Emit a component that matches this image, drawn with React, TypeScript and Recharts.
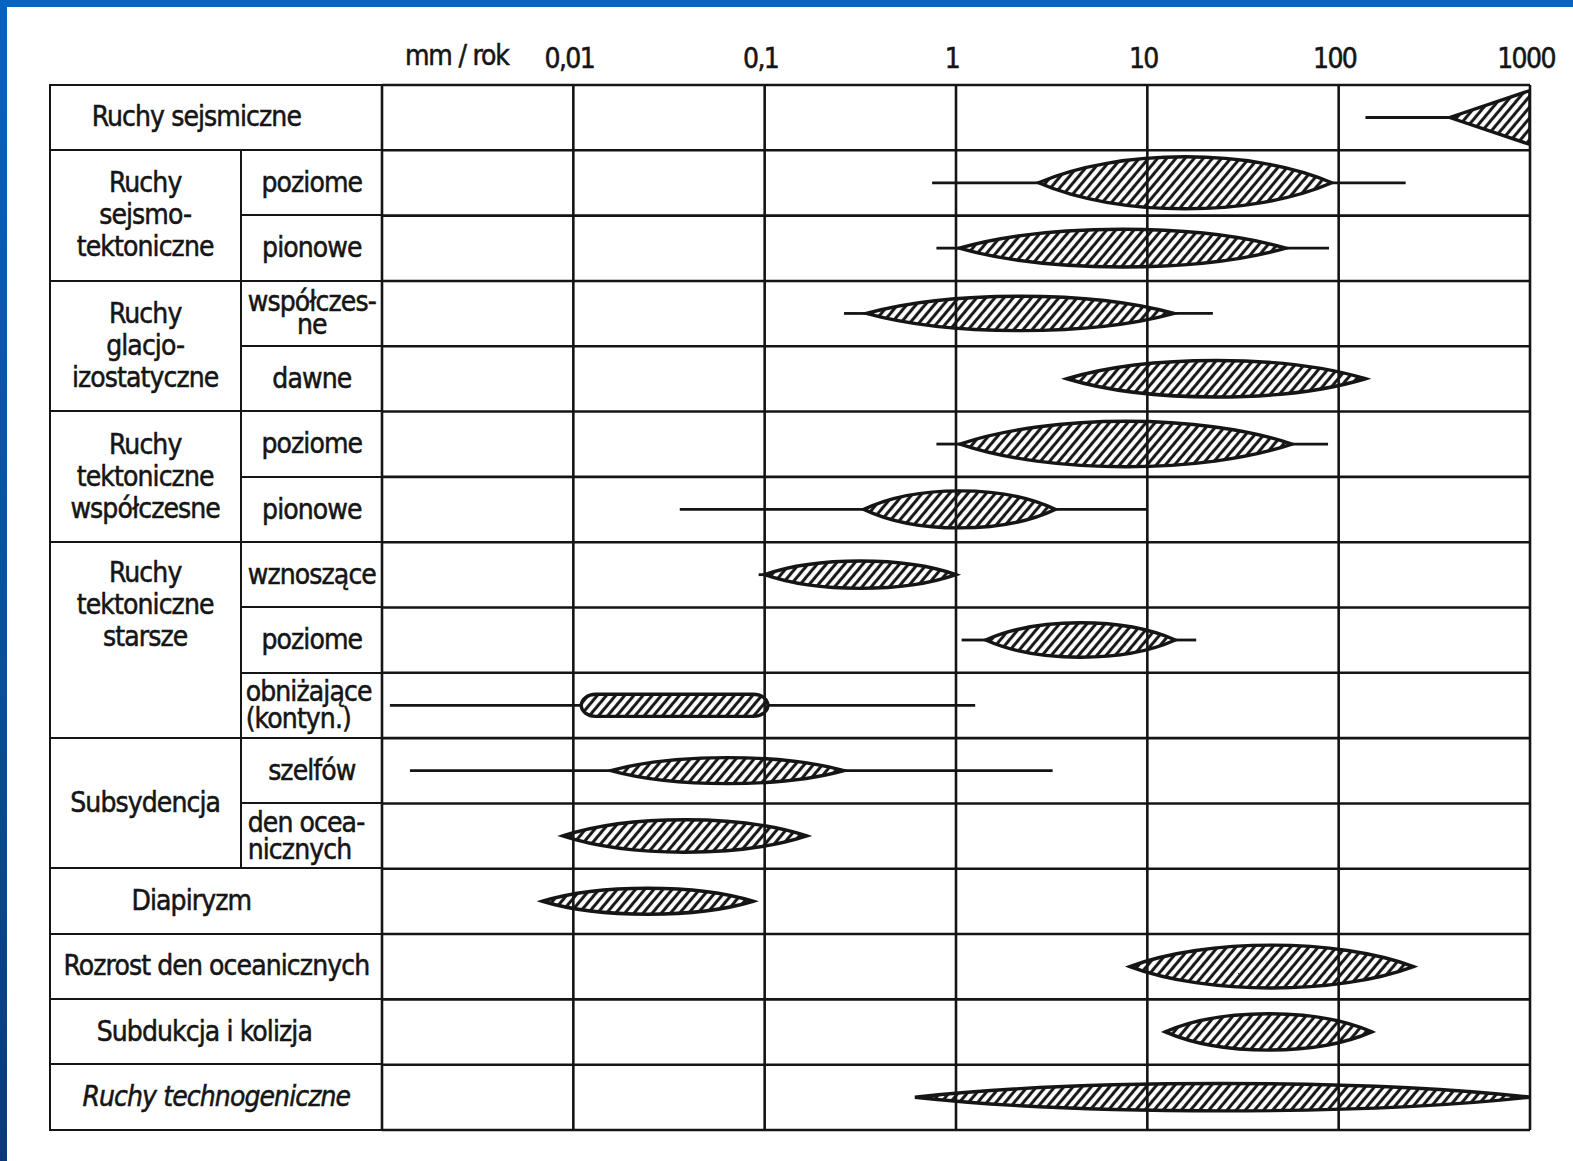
import React from 'react';
import { ComposedChart, Bar, XAxis, YAxis, CartesianGrid, ReferenceLine } from 'recharts';

const FONT = "'Liberation Sans Narrow', 'DejaVu Sans Condensed', 'Liberation Sans', sans-serif";
const INK = '#151515';
const LINE_W = 2.6;

const CHART_W = 1573;
const CHART_H = 1161;
const PLOT_LEFT = 382;
const PLOT_RIGHT = 1530;
const PLOT_TOP = 85;
const PLOT_BOTTOM = 1130;
const AXIS_H = 40;
const ROW_COUNT = 16;
const ROW_H = (PLOT_BOTTOM - PLOT_TOP) / ROW_COUNT;

// rows, top to bottom
const ROW_KEYS = [
  'sejsmiczne', 'st-poziome', 'st-pionowe', 'gi-wspolczesne', 'gi-dawne',
  'tw-poziome', 'tw-pionowe', 'ts-wznoszace', 'ts-poziome', 'ts-obnizajace',
  'sub-szelfow', 'sub-den', 'diapiryzm', 'rozrost', 'subdukcja', 'technogeniczne',
];
const SUB_LABELS = [
  null, 'poziome', 'pionowe', 'współczes-\nne', 'dawne',
  'poziome', 'pionowe', 'wznoszące', 'poziome', 'obniżające\n(kontyn.)',
  'szelfów', 'den ocea-\nnicznych', null, null, null, null,
];
const GROUP_TEXT = [
  'Ruchy sejsmiczne', 'Ruchy\nsejsmo-\ntektoniczne', 'Ruchy\nglacjo-\nizostatyczne',
  'Ruchy\ntektoniczne\nwspółczesne', 'Ruchy\ntektoniczne\nstarsze', 'Subsydencja',
  'Diapiryzm', 'Rozrost den oceanicznych', 'Subdukcja i kolizja', 'Ruchy technogeniczne',
];
const GROUP_FIRST = [0, 1, 3, 5, 7, 10, 12, 13, 14, 15];
const GROUP_SPAN = [1, 2, 2, 2, 3, 2, 1, 1, 1, 1];

// rates in mm/rok (log scale)
const WHISKER_LO = [138, 0.75, 0.79, 0.26, null, 0.79, 0.036, 0.093, 1.07, 0.0011, 0.0014, null, null, null, null, null];
const WHISKER_HI = [380, 224, 89, 22, null, 88, 10, 0.1, 18, 1.26, 3.2, null, null, null, null, null];
const LENS_LO = [380, 2.7, 1.04, 0.34, 3.8, 1.05, 0.33, 0.1, 1.43, 0.011, 0.0157, 0.0088, 0.0069, 8.1, 12.4, 0.61];
const LENS_HI = [1000, 92, 53, 13.8, 138, 57, 3.3, 1, 14, 0.104, 0.26, 0.166, 0.087, 246, 149, 1000];
// relative thickness of each lens (share of the row half-height)
const LENS_WEIGHT = [0.83, 0.8, 0.58, 0.53, 0.56, 0.7, 0.57, 0.42, 0.53, 0.34, 0.4, 0.5, 0.4, 0.66, 0.56, 0.42];
const LENS_FORM = ['wedge', 'lens', 'lens', 'lens', 'lens', 'lens', 'lens', 'lens', 'lens', 'capsule', 'lens', 'lens', 'lens', 'lens', 'lens', 'lens'];

const X_TICKS = [0.001, 0.01, 0.1, 1, 10, 100, 1000];
const X_TICK_LABELS = ['', '0,01', '0,1', '1', '10', '100', '1000'];

const data = ROW_KEYS.map((key, i) => {
  const wLo = WHISKER_LO[i];
  const wHi = WHISKER_HI[i];
  return {
    key,
    left: wLo != null && wLo < LENS_LO[i] ? [wLo, LENS_LO[i]] : null,
    right: wHi != null && wHi > LENS_HI[i] ? [LENS_HI[i], wHi] : null,
    lens: [LENS_LO[i], LENS_HI[i]],
    weight: LENS_WEIGHT[i],
    form: LENS_FORM[i],
  };
});

function WhiskerShape(props: any) {
  const { x, y, width, height, payload, side } = props;
  if (!payload || payload[side] == null || !isFinite(x) || !isFinite(width)) return null;
  const cy = y + height / 2;
  return <line x1={x} x2={x + width} y1={cy} y2={cy} stroke={INK} strokeWidth={2.8} />;
}

function LensShape(props: any) {
  const { x, y, width, height, payload } = props;
  if (!payload || !isFinite(x) || !isFinite(width)) return null;
  const cy = y + height / 2;
  const h = (payload.weight * height) / 2;
  const x1 = x + width;
  if (payload.form === 'wedge') {
    const d = `M${x},${cy} L${x1},${cy - h} L${x1},${cy + h} Z`;
    return <path d={d} fill="url(#hatch)" stroke={INK} strokeWidth={3.4} strokeLinejoin="round" />;
  }
  if (payload.form === 'capsule') {
    return (
      <rect x={x} y={cy - h} width={width} height={2 * h} rx={h * 1.3} ry={h}
        fill="url(#hatch)" stroke={INK} strokeWidth={3.4} />
    );
  }
  const k = (h * 4) / 3;
  const c = width * 0.27;
  const d =
    `M${x},${cy} C${x + c},${cy - k} ${x1 - c},${cy - k} ${x1},${cy} ` +
    `C${x1 - c},${cy + k} ${x + c},${cy + k} ${x},${cy} Z`;
  return <path d={d} fill="url(#hatch)" stroke={INK} strokeWidth={3.4} />;
}

function XTick(props: any) {
  const { x, y, payload } = props;
  const i = X_TICKS.indexOf(payload.value);
  return (
    <text x={x - 4} y={y - 9} textAnchor="middle" fontFamily={FONT} fontSize={28} letterSpacing={-1.6}
      fill={INK} stroke={INK} strokeWidth={0.5}>
      {X_TICK_LABELS[i]}
    </text>
  );
}

const GROUP_STYLE: Record<number, React.CSSProperties> = {
  0: { paddingRight: 40 },
  4: { alignItems: 'flex-start', paddingTop: 14 },
  6: { paddingRight: 50 },
  8: { paddingRight: 24 },
  9: { fontStyle: 'italic' },
};
const SUB_STYLE: Record<number, React.CSSProperties> = {
  3: { lineHeight: '23px' },
  9: { justifyContent: 'flex-start', textAlign: 'left', paddingLeft: 4 },
  11: { justifyContent: 'flex-start', textAlign: 'left', paddingLeft: 6 },
};

function LabelTable() {
  const half = LINE_W / 2;
  const cell: React.CSSProperties = {
    boxSizing: 'border-box',
    borderTop: `${LINE_W}px solid ${INK}`,
    borderLeft: `${LINE_W}px solid ${INK}`,
    display: 'flex',
    alignItems: 'center',
    justifyContent: 'center',
    textAlign: 'center',
    whiteSpace: 'pre',
    fontFamily: FONT,
    fontSize: 28,
    letterSpacing: -0.9,
    lineHeight: '32px',
    color: INK,
    WebkitTextStroke: '0.5px ' + INK,
    overflow: 'visible',
  };
  const last = ROW_COUNT - 1;
  const cells: React.ReactNode[] = [];
  GROUP_TEXT.forEach((text, g) => {
    const first = GROUP_FIRST[g];
    const span = GROUP_SPAN[g];
    const hasSub = SUB_LABELS[first] != null;
    cells.push(
      <div
        key={'g' + g}
        style={{
          ...cell,
          gridColumn: hasSub ? '1 / 2' : '1 / 3',
          gridRow: `${first + 1} / span ${span}`,
          borderBottom: first + span - 1 === last ? `${LINE_W}px solid ${INK}` : undefined,
          ...(GROUP_STYLE[g] || {}),
        }}
      >
        {text}
      </div>
    );
  });
  SUB_LABELS.forEach((t, i) => {
    if (t == null) return;
    cells.push(
      <div
        key={'s' + i}
        style={{ ...cell, gridColumn: '2 / 3', gridRow: `${i + 1}`, lineHeight: '27px', ...(SUB_STYLE[i] || {}) }}
      >
        {t}
      </div>
    );
  });
  return (
    <div
      style={{
        position: 'absolute',
        left: 50 - half,
        top: PLOT_TOP - half,
        width: PLOT_LEFT - 50 + half,
        height: PLOT_BOTTOM - PLOT_TOP + LINE_W,
        display: 'grid',
        gridTemplateColumns: '191px 1fr',
        gridTemplateRows: `repeat(${ROW_COUNT - 1}, ${ROW_H}px) 1fr`,
      }}
    >
      {cells}
    </div>
  );
}

export default function App() {
  return (
    <div style={{ position: 'relative', width: CHART_W, height: CHART_H, background: '#fff', overflow: 'hidden' }}>
      <style>{'body{margin:0}'}</style>
      <svg width={0} height={0} style={{ position: 'absolute' }}>
        <defs>
          <pattern id="hatch" patternUnits="userSpaceOnUse" width={7} height={7} patternTransform="rotate(40)">
            <line x1={1.6} y1={0} x2={1.6} y2={7} stroke={INK} strokeWidth={3} />
          </pattern>
        </defs>
      </svg>
      <div style={{ position: 'absolute', left: 0, top: 0, width: CHART_W, height: 7, background: '#0563c4' }} />
      <div
        style={{
          position: 'absolute', left: 0, top: 0, width: 7, height: CHART_H,
          background: 'linear-gradient(#0563c4, #0a4f9e 55%, #0b3a78)',
        }}
      />
      <LabelTable />
      <div
        style={{
          position: 'absolute', left: 405, top: 39, fontFamily: FONT, fontSize: 28, color: INK,
          letterSpacing: -1.2, whiteSpace: 'nowrap', lineHeight: '34px', WebkitTextStroke: '0.5px ' + INK,
        }}
      >
        mm / rok
      </div>
      <div style={{ position: 'absolute', left: 0, top: 0 }}>
        <ComposedChart
          width={CHART_W}
          height={CHART_H}
          data={data}
          layout="vertical"
          barCategoryGap={0}
          margin={{ top: PLOT_TOP - AXIS_H, right: CHART_W - PLOT_RIGHT, bottom: CHART_H - PLOT_BOTTOM, left: PLOT_LEFT }}
        >
          <XAxis
            type="number"
            scale="log"
            domain={[0.001, 1000]}
            allowDataOverflow
            ticks={X_TICKS}
            orientation="top"
            height={AXIS_H}
            axisLine={false}
            tickLine={false}
            tick={<XTick />}
            interval={0}
          />
          <YAxis yAxisId="a" type="category" dataKey="key" hide />
          <YAxis yAxisId="b" type="category" dataKey="key" hide />
          <YAxis yAxisId="c" type="category" dataKey="key" hide />
          <CartesianGrid
            yAxisId="a"
            vertical={false}
            stroke={INK}
            strokeWidth={LINE_W}
            horizontalCoordinatesGenerator={({ offset }: any) =>
              Array.from({ length: ROW_COUNT + 1 }, (_, i) => offset.top + (i * offset.height) / ROW_COUNT)
            }
          />
          {X_TICKS.map((t) => (
            <ReferenceLine key={t} yAxisId="a" x={t} stroke={INK} strokeWidth={LINE_W} />
          ))}
          <Bar yAxisId="a" dataKey="left" isAnimationActive={false} shape={(p: any) => <WhiskerShape {...p} side="left" />} />
          <Bar yAxisId="b" dataKey="right" isAnimationActive={false} shape={(p: any) => <WhiskerShape {...p} side="right" />} />
          <Bar yAxisId="c" dataKey="lens" isAnimationActive={false} shape={(p: any) => <LensShape {...p} />} />
        </ComposedChart>
      </div>
    </div>
  );
}
